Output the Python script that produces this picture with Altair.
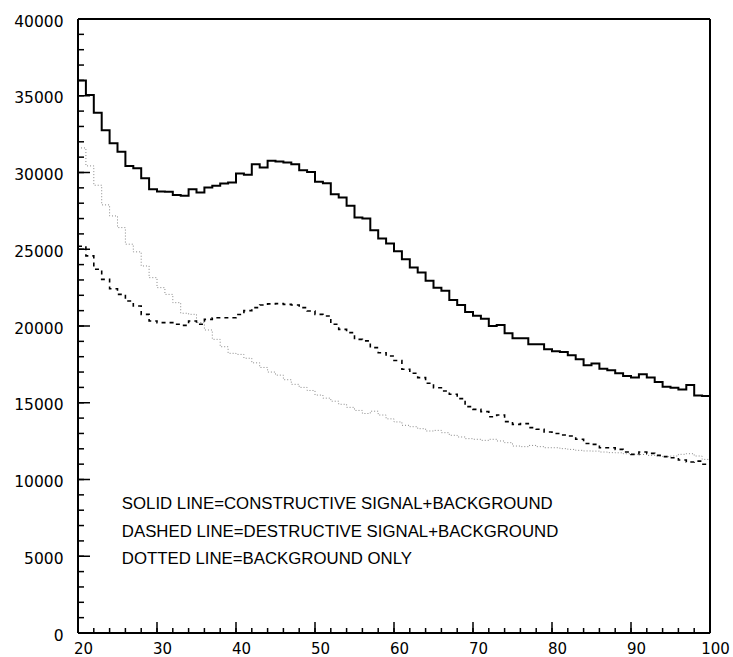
import altair as alt
import pandas as pd

# ---- data (bin lower edges 20..99, width 1) ----
bin_start = list(range(20, 100))

solid = [36000, 35050, 33900, 32750, 31900, 31350, 30430, 30280, 29630, 28910,
         28760, 28740, 28540, 28480, 28910, 28700, 29020, 29130, 29280, 29350,
         29930, 29850, 30540, 30330, 30760, 30720, 30650, 30540, 30150, 30040,
         29390, 29300, 28590, 28370, 27830, 27070, 27000, 26240, 25700, 25370,
         24870, 24350, 23810, 23480, 22940, 22500, 22290, 21700, 21370, 20920,
         20660, 20480, 20000, 20070, 19530, 19200, 19200, 18810, 18810, 18480,
         18350, 18300, 18090, 17830, 17440, 17550, 17220, 17110, 16920, 16740,
         16640, 16850, 16640, 16350, 16050, 15980, 15870, 16160, 15480, 15440]

dashed = [25200, 24570, 23700, 23040, 22430, 22060, 21630, 21300, 20760, 20330,
          20220, 20220, 20110, 20040, 20330, 20110, 20430, 20540, 20540, 20540,
          20750, 21000, 21200, 21370, 21440, 21460, 21410, 21370, 21200, 20980,
          20760, 20650, 20110, 19780, 19570, 19130, 19030, 18590, 18260, 18050,
          17750, 17180, 16920, 16640, 16270, 15980, 15770, 15550, 15270, 14750,
          14570, 14420, 14090, 14200, 13770, 13590, 13640, 13380, 13270, 13090,
          13000, 12900, 12830, 12620, 12350, 12290, 12070, 12070, 11960, 11790,
          11640, 11790, 11700, 11570, 11490, 11420, 11270, 11140, 11200, 10990]

dotted = [31600, 30430, 29170, 27890, 27170, 26410, 25330, 24830, 23910, 23150,
          22500, 22060, 21520, 20830, 20760, 20220, 19740, 19130, 18650, 18220,
          18150, 17900, 17600, 17300, 17000, 16800, 16500, 16200, 16000, 15800,
          15500, 15300, 15100, 14900, 14700, 14500, 14300, 14450, 14200, 13950,
          13750, 13530, 13440, 13310, 13160, 13200, 13050, 12880, 12770, 12660,
          12620, 12550, 12620, 12510, 12400, 12180, 12140, 12220, 12140, 12070,
          12070, 12010, 11960, 11900, 11860, 11850, 11790, 11750, 11740, 11680,
          11640, 11630, 11570, 11530, 11490, 11530, 11640, 11680, 11530, 11310]

x_major = [20, 30, 40, 50, 60, 70, 80, 90, 100]
x_minor = list(range(20, 101, 2))
y_major = [0, 5000, 10000, 15000, 20000, 25000, 30000, 35000, 40000]
y_minor = list(range(0, 40001, 1000))

notes = ["SOLID LINE=CONSTRUCTIVE SIGNAL+BACKGROUND",
         "DASHED LINE=DESTRUCTIVE SIGNAL+BACKGROUND",
         "DOTTED LINE=BACKGROUND ONLY"]
note_x = [25.55, 25.55, 25.55]
note_y = [8060, 6270, 4490]


def step_frame(vals):
    # closing point at the upper edge of the last bin
    return pd.DataFrame({"x": bin_start + [100], "y": vals + [vals[-1]]})


xs = alt.Scale(domain=[20, 100], nice=False, zero=False)
ys = alt.Scale(domain=[0, 40000], nice=False, zero=True)

TICK_FONT = "DejaVu Sans"

x_axis = alt.Axis(values=x_major, title=None, grid=False, domain=False,
                  ticks=False, tickSize=0, labelPadding=20, labelOffset=5,
                  labelBaseline="alphabetic",
                  labelFont=TICK_FONT, labelFontSize=15, labelColor="black",
                  labelFlush=False)
y_axis = alt.Axis(values=y_major, title=None, grid=False, domain=False,
                  ticks=False, tickSize=0, labelPadding=15, labelOffset=2,
                  format="d",
                  labelFont=TICK_FONT, labelFontSize=15.5, labelColor="black",
                  labelFlush=False, labelBaseline="middle")


def X(field):
    return alt.X(field, type="quantitative", scale=xs, axis=x_axis)


def Y(field):
    return alt.Y(field, type="quantitative", scale=ys, axis=y_axis)


solid_layer = alt.Chart(step_frame(solid)).mark_line(
    interpolate="step-after", color="black", strokeWidth=2
).encode(x=X("x"), y=Y("y"))

dashed_layer = alt.Chart(step_frame(dashed)).mark_line(
    interpolate="step-after", color="black", strokeWidth=1.6, strokeDash=[4, 4]
).encode(x=X("x"), y=Y("y"))

dotted_layer = alt.Chart(step_frame(dotted)).mark_line(
    interpolate="step-after", color="#888888", strokeWidth=1, strokeDash=[1, 2]
).encode(x=X("x"), y=Y("y"))

# frame (drawn through the scales at the domain limits)
frame_h = alt.Chart(pd.DataFrame({"y": [0, 40000]})).mark_rule(
    color="black", strokeWidth=2
).encode(y=Y("y"), x=alt.value(0), x2=alt.value(632))

frame_v = alt.Chart(pd.DataFrame({"x": [20, 100]})).mark_rule(
    color="black", strokeWidth=2
).encode(x=X("x"), y=alt.value(0), y2=alt.value(614))

# inward ticks
xminor_layer = alt.Chart(pd.DataFrame({"x": x_minor})).mark_rule(
    color="black", strokeWidth=1.5
).encode(x=X("x"), y=alt.value(614), y2=alt.value(609))

xmajor_layer = alt.Chart(pd.DataFrame({"x": x_major})).mark_rule(
    color="black", strokeWidth=1.5
).encode(x=X("x"), y=alt.value(614), y2=alt.value(603))

yminor_layer = alt.Chart(pd.DataFrame({"y": y_minor})).mark_rule(
    color="black", strokeWidth=1.5
).encode(y=Y("y"), x=alt.value(0), x2=alt.value(6))

ymajor_layer = alt.Chart(pd.DataFrame({"y": y_major})).mark_rule(
    color="black", strokeWidth=1.5
).encode(y=Y("y"), x=alt.value(0), x2=alt.value(12))

note_layer = alt.Chart(pd.DataFrame({"t": notes, "x": note_x, "y": note_y})).mark_text(
    align="left", baseline="alphabetic", font="Liberation Sans", fontSize=16.8,
    color="black"
).encode(x=X("x"), y=Y("y"), text="t:N")

chart = alt.layer(
    dotted_layer, dashed_layer, solid_layer, frame_h, frame_v,
    xminor_layer, xmajor_layer, yminor_layer, ymajor_layer, note_layer
).properties(
    width=632, height=614,
    autosize=alt.AutoSizeParams(type="none"),
    padding={"left": 78, "top": 19, "right": 23, "bottom": 24},
).configure_view(
    strokeWidth=0
).configure(background="white")

chart.save("out.html", embed_options={"renderer": "svg", "actions": False})
